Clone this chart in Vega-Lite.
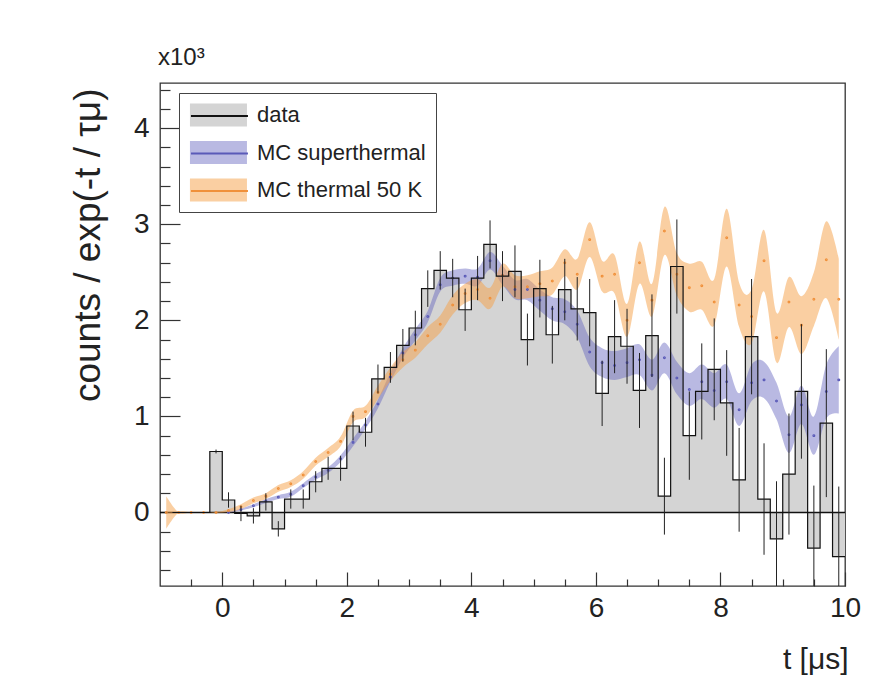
{
  "$schema": "https://vega.github.io/schema/vega-lite/v6.json",
  "width": 685,
  "height": 503,
  "autosize": {"type": "none"},
  "padding": {"left": 160, "top": 83, "right": 46, "bottom": 91},
  "background": "white",
  "config": {
    "view": {"stroke": "#333", "strokeWidth": 1.3},
    "font": "Liberation Sans",
    "title": {"fontSize": 24},
    "axis": {"grid": false, "domain": false, "labelFont": "Liberation Sans", "titleFont": "Liberation Sans", "labelColor": "#222", "titleColor": "#222", "tickColor": "#333", "tickWidth": 1.2, "titleFontWeight": "normal", "labelOverlap": false, "labelFlush": false}
  },
  "title": {"text": "x10³", "anchor": "start", "frame": "group", "fontSize": 24, "fontWeight": "normal", "font": "Liberation Sans", "color": "#222", "offset": 13, "dx": -2},
  "resolve": {"axis": {"x": "independent", "y": "independent"}},
  "datasets": {
    "hist": [
      {"t0": -1.0, "t1": -0.8, "t": -0.9, "v": 0, "lo": 0, "hi": 0},
      {"t0": -0.8, "t1": -0.6, "t": -0.7, "v": 0, "lo": 0, "hi": 0},
      {"t0": -0.6, "t1": -0.4, "t": -0.5, "v": 0, "lo": 0, "hi": 0},
      {"t0": -0.4, "t1": -0.2, "t": -0.3, "v": 0, "lo": 0, "hi": 0},
      {"t0": -0.2, "t1": 0.0, "t": -0.1, "v": 0.635, "lo": 0.615, "hi": 0.655},
      {"t0": 0.0, "t1": 0.2, "t": 0.1, "v": 0.13, "lo": 0.05, "hi": 0.21},
      {"t0": 0.2, "t1": 0.4, "t": 0.3, "v": -0.01, "lo": -0.09, "hi": 0.07},
      {"t0": 0.4, "t1": 0.6, "t": 0.5, "v": -0.035, "lo": -0.115, "hi": 0.045},
      {"t0": 0.6, "t1": 0.8, "t": 0.7, "v": 0.11, "lo": 0.02, "hi": 0.2},
      {"t0": 0.8, "t1": 1.0, "t": 0.9, "v": -0.17, "lo": -0.25, "hi": -0.09},
      {"t0": 1.0, "t1": 1.2, "t": 1.1, "v": 0.14, "lo": 0.04, "hi": 0.24},
      {"t0": 1.2, "t1": 1.4, "t": 1.3, "v": 0.14, "lo": 0.04, "hi": 0.24},
      {"t0": 1.4, "t1": 1.6, "t": 1.5, "v": 0.32, "lo": 0.21, "hi": 0.43},
      {"t0": 1.6, "t1": 1.8, "t": 1.7, "v": 0.46, "lo": 0.34, "hi": 0.58},
      {"t0": 1.8, "t1": 2.0, "t": 1.9, "v": 0.46, "lo": 0.33, "hi": 0.59},
      {"t0": 2.0, "t1": 2.2, "t": 2.1, "v": 0.9, "lo": 0.75, "hi": 1.05},
      {"t0": 2.2, "t1": 2.4, "t": 2.3, "v": 0.835, "lo": 0.685, "hi": 0.985},
      {"t0": 2.4, "t1": 2.6, "t": 2.5, "v": 1.39, "lo": 1.24, "hi": 1.54},
      {"t0": 2.6, "t1": 2.8, "t": 2.7, "v": 1.51, "lo": 1.35, "hi": 1.67},
      {"t0": 2.8, "t1": 3.0, "t": 2.9, "v": 1.74, "lo": 1.57, "hi": 1.91},
      {"t0": 3.0, "t1": 3.2, "t": 3.1, "v": 1.92, "lo": 1.74, "hi": 2.1},
      {"t0": 3.2, "t1": 3.4, "t": 3.3, "v": 2.33, "lo": 2.14, "hi": 2.52},
      {"t0": 3.4, "t1": 3.6, "t": 3.5, "v": 2.52, "lo": 2.32, "hi": 2.72},
      {"t0": 3.6, "t1": 3.8, "t": 3.7, "v": 2.44, "lo": 2.24, "hi": 2.64},
      {"t0": 3.8, "t1": 4.0, "t": 3.9, "v": 2.11, "lo": 1.89, "hi": 2.33},
      {"t0": 4.0, "t1": 4.2, "t": 4.1, "v": 2.44, "lo": 2.21, "hi": 2.67},
      {"t0": 4.2, "t1": 4.4, "t": 4.3, "v": 2.79, "lo": 2.54, "hi": 3.04},
      {"t0": 4.4, "t1": 4.6, "t": 4.5, "v": 2.46, "lo": 2.2, "hi": 2.72},
      {"t0": 4.6, "t1": 4.8, "t": 4.7, "v": 2.51, "lo": 2.24, "hi": 2.78},
      {"t0": 4.8, "t1": 5.0, "t": 4.9, "v": 1.8, "lo": 1.53, "hi": 2.07},
      {"t0": 5.0, "t1": 5.2, "t": 5.1, "v": 2.33, "lo": 2.03, "hi": 2.63},
      {"t0": 5.2, "t1": 5.4, "t": 5.3, "v": 1.85, "lo": 1.55, "hi": 2.15},
      {"t0": 5.4, "t1": 5.6, "t": 5.5, "v": 2.32, "lo": 2.0, "hi": 2.64},
      {"t0": 5.6, "t1": 5.8, "t": 5.7, "v": 2.12, "lo": 1.79, "hi": 2.45},
      {"t0": 5.8, "t1": 6.0, "t": 5.9, "v": 2.08, "lo": 1.73, "hi": 2.43},
      {"t0": 6.0, "t1": 6.2, "t": 6.1, "v": 1.24, "lo": 0.9, "hi": 1.58},
      {"t0": 6.2, "t1": 6.4, "t": 6.3, "v": 1.83, "lo": 1.45, "hi": 2.21},
      {"t0": 6.4, "t1": 6.6, "t": 6.5, "v": 1.73, "lo": 1.34, "hi": 2.12},
      {"t0": 6.6, "t1": 6.8, "t": 6.7, "v": 1.27, "lo": 0.88, "hi": 1.66},
      {"t0": 6.8, "t1": 7.0, "t": 6.9, "v": 1.84, "lo": 1.41, "hi": 2.27},
      {"t0": 7.0, "t1": 7.2, "t": 7.1, "v": 0.17, "lo": -0.23, "hi": 0.57},
      {"t0": 7.2, "t1": 7.4, "t": 7.3, "v": 2.56, "lo": 2.07, "hi": 3.05},
      {"t0": 7.4, "t1": 7.6, "t": 7.5, "v": 0.8, "lo": 0.34, "hi": 1.26},
      {"t0": 7.6, "t1": 7.8, "t": 7.7, "v": 1.26, "lo": 0.76, "hi": 1.76},
      {"t0": 7.8, "t1": 8.0, "t": 7.9, "v": 1.49, "lo": 0.96, "hi": 2.02},
      {"t0": 8.0, "t1": 8.2, "t": 8.1, "v": 1.14, "lo": 0.59, "hi": 1.69},
      {"t0": 8.2, "t1": 8.4, "t": 8.3, "v": 0.34, "lo": -0.2, "hi": 0.88},
      {"t0": 8.4, "t1": 8.6, "t": 8.5, "v": 1.83, "lo": 1.23, "hi": 2.43},
      {"t0": 8.6, "t1": 8.8, "t": 8.7, "v": 0.14, "lo": -0.44, "hi": 0.72},
      {"t0": 8.8, "t1": 9.0, "t": 8.9, "v": -0.275, "lo": -0.875, "hi": 0.325},
      {"t0": 9.0, "t1": 9.2, "t": 9.1, "v": 0.4, "lo": -0.23, "hi": 1.03},
      {"t0": 9.2, "t1": 9.4, "t": 9.3, "v": 1.26, "lo": 0.56, "hi": 1.96},
      {"t0": 9.4, "t1": 9.6, "t": 9.5, "v": -0.37, "lo": -1.02, "hi": 0.28},
      {"t0": 9.6, "t1": 9.8, "t": 9.7, "v": 0.93, "lo": 0.16, "hi": 1.7},
      {"t0": 9.8, "t1": 10.0, "t": 9.9, "v": -0.46, "lo": -1.19, "hi": 0.27}
    ],
    "bands": [
      {"series": "MC superthermal", "t": 0.1, "c": 0.0, "lo": -0.005, "hi": 0.005},
      {"series": "MC superthermal", "t": 0.3, "c": 0.03, "lo": 0.02, "hi": 0.04},
      {"series": "MC superthermal", "t": 0.5, "c": 0.07, "lo": 0.055, "hi": 0.085},
      {"series": "MC superthermal", "t": 0.7, "c": 0.12, "lo": 0.1, "hi": 0.14},
      {"series": "MC superthermal", "t": 0.9, "c": 0.16, "lo": 0.14, "hi": 0.18},
      {"series": "MC superthermal", "t": 1.1, "c": 0.19, "lo": 0.165, "hi": 0.215},
      {"series": "MC superthermal", "t": 1.3, "c": 0.28, "lo": 0.255, "hi": 0.305},
      {"series": "MC superthermal", "t": 1.5, "c": 0.37, "lo": 0.34, "hi": 0.4},
      {"series": "MC superthermal", "t": 1.7, "c": 0.44, "lo": 0.41, "hi": 0.47},
      {"series": "MC superthermal", "t": 1.9, "c": 0.56, "lo": 0.525, "hi": 0.595},
      {"series": "MC superthermal", "t": 2.1, "c": 0.73, "lo": 0.69, "hi": 0.77},
      {"series": "MC superthermal", "t": 2.3, "c": 0.91, "lo": 0.87, "hi": 0.95},
      {"series": "MC superthermal", "t": 2.5, "c": 1.13, "lo": 1.085, "hi": 1.175},
      {"series": "MC superthermal", "t": 2.7, "c": 1.41, "lo": 1.36, "hi": 1.46},
      {"series": "MC superthermal", "t": 2.9, "c": 1.66, "lo": 1.61, "hi": 1.71},
      {"series": "MC superthermal", "t": 3.1, "c": 1.85, "lo": 1.79, "hi": 1.91},
      {"series": "MC superthermal", "t": 3.3, "c": 2.04, "lo": 1.98, "hi": 2.1},
      {"series": "MC superthermal", "t": 3.5, "c": 2.37, "lo": 2.3, "hi": 2.44},
      {"series": "MC superthermal", "t": 3.7, "c": 2.44, "lo": 2.36, "hi": 2.52},
      {"series": "MC superthermal", "t": 3.9, "c": 2.46, "lo": 2.38, "hi": 2.54},
      {"series": "MC superthermal", "t": 4.1, "c": 2.45, "lo": 2.36, "hi": 2.54},
      {"series": "MC superthermal", "t": 4.3, "c": 2.62, "lo": 2.53, "hi": 2.71},
      {"series": "MC superthermal", "t": 4.5, "c": 2.47, "lo": 2.37, "hi": 2.57},
      {"series": "MC superthermal", "t": 4.7, "c": 2.32, "lo": 2.22, "hi": 2.42},
      {"series": "MC superthermal", "t": 4.9, "c": 2.32, "lo": 2.21, "hi": 2.43},
      {"series": "MC superthermal", "t": 5.1, "c": 2.21, "lo": 2.1, "hi": 2.32},
      {"series": "MC superthermal", "t": 5.3, "c": 2.12, "lo": 2.0, "hi": 2.24},
      {"series": "MC superthermal", "t": 5.5, "c": 2.09, "lo": 1.96, "hi": 2.22},
      {"series": "MC superthermal", "t": 5.7, "c": 1.96, "lo": 1.82, "hi": 2.1},
      {"series": "MC superthermal", "t": 5.9, "c": 1.67, "lo": 1.52, "hi": 1.82},
      {"series": "MC superthermal", "t": 6.1, "c": 1.56, "lo": 1.41, "hi": 1.71},
      {"series": "MC superthermal", "t": 6.3, "c": 1.53, "lo": 1.38, "hi": 1.68},
      {"series": "MC superthermal", "t": 6.5, "c": 1.56, "lo": 1.41, "hi": 1.71},
      {"series": "MC superthermal", "t": 6.7, "c": 1.59, "lo": 1.43, "hi": 1.75},
      {"series": "MC superthermal", "t": 6.9, "c": 1.43, "lo": 1.27, "hi": 1.59},
      {"series": "MC superthermal", "t": 7.1, "c": 1.61, "lo": 1.45, "hi": 1.77},
      {"series": "MC superthermal", "t": 7.3, "c": 1.4, "lo": 1.23, "hi": 1.57},
      {"series": "MC superthermal", "t": 7.5, "c": 1.28, "lo": 1.11, "hi": 1.45},
      {"series": "MC superthermal", "t": 7.7, "c": 1.36, "lo": 1.18, "hi": 1.54},
      {"series": "MC superthermal", "t": 7.9, "c": 1.27, "lo": 1.09, "hi": 1.45},
      {"series": "MC superthermal", "t": 8.1, "c": 1.36, "lo": 1.18, "hi": 1.54},
      {"series": "MC superthermal", "t": 8.3, "c": 1.07, "lo": 0.9, "hi": 1.24},
      {"series": "MC superthermal", "t": 8.5, "c": 1.35, "lo": 1.16, "hi": 1.54},
      {"series": "MC superthermal", "t": 8.7, "c": 1.38, "lo": 1.19, "hi": 1.57},
      {"series": "MC superthermal", "t": 8.9, "c": 1.16, "lo": 0.97, "hi": 1.35},
      {"series": "MC superthermal", "t": 9.1, "c": 0.81, "lo": 0.62, "hi": 1.0},
      {"series": "MC superthermal", "t": 9.3, "c": 1.12, "lo": 0.92, "hi": 1.32},
      {"series": "MC superthermal", "t": 9.5, "c": 0.8, "lo": 0.6, "hi": 1.0},
      {"series": "MC superthermal", "t": 9.7, "c": 1.26, "lo": 0.98, "hi": 1.54},
      {"series": "MC superthermal", "t": 9.9, "c": 1.38, "lo": 1.03, "hi": 1.73},
      {"series": "MC thermal 50 K", "t": -0.9, "c": 0.0, "lo": -0.17, "hi": 0.17},
      {"series": "MC thermal 50 K", "t": -0.7, "c": 0.0, "lo": 0.0, "hi": 0.0},
      {"series": "MC thermal 50 K", "t": -0.5, "c": 0.0, "lo": 0.0, "hi": 0.0},
      {"series": "MC thermal 50 K", "t": -0.3, "c": 0.0, "lo": 0.0, "hi": 0.0},
      {"series": "MC thermal 50 K", "t": -0.1, "c": 0.0, "lo": -0.005, "hi": 0.005},
      {"series": "MC thermal 50 K", "t": 0.1, "c": 0.02, "lo": 0.005, "hi": 0.035},
      {"series": "MC thermal 50 K", "t": 0.3, "c": 0.06, "lo": 0.035, "hi": 0.085},
      {"series": "MC thermal 50 K", "t": 0.5, "c": 0.125, "lo": 0.095, "hi": 0.155},
      {"series": "MC thermal 50 K", "t": 0.7, "c": 0.17, "lo": 0.14, "hi": 0.2},
      {"series": "MC thermal 50 K", "t": 0.9, "c": 0.25, "lo": 0.215, "hi": 0.285},
      {"series": "MC thermal 50 K", "t": 1.1, "c": 0.3, "lo": 0.265, "hi": 0.335},
      {"series": "MC thermal 50 K", "t": 1.3, "c": 0.39, "lo": 0.35, "hi": 0.43},
      {"series": "MC thermal 50 K", "t": 1.5, "c": 0.53, "lo": 0.49, "hi": 0.57},
      {"series": "MC thermal 50 K", "t": 1.7, "c": 0.625, "lo": 0.58, "hi": 0.67},
      {"series": "MC thermal 50 K", "t": 1.9, "c": 0.74, "lo": 0.69, "hi": 0.79},
      {"series": "MC thermal 50 K", "t": 2.1, "c": 1.0, "lo": 0.94, "hi": 1.06},
      {"series": "MC thermal 50 K", "t": 2.3, "c": 1.05, "lo": 0.99, "hi": 1.11},
      {"series": "MC thermal 50 K", "t": 2.5, "c": 1.25, "lo": 1.18, "hi": 1.32},
      {"series": "MC thermal 50 K", "t": 2.7, "c": 1.44, "lo": 1.37, "hi": 1.51},
      {"series": "MC thermal 50 K", "t": 2.9, "c": 1.59, "lo": 1.51, "hi": 1.67},
      {"series": "MC thermal 50 K", "t": 3.1, "c": 1.69, "lo": 1.61, "hi": 1.77},
      {"series": "MC thermal 50 K", "t": 3.3, "c": 1.84, "lo": 1.75, "hi": 1.93},
      {"series": "MC thermal 50 K", "t": 3.5, "c": 1.96, "lo": 1.87, "hi": 2.05},
      {"series": "MC thermal 50 K", "t": 3.7, "c": 2.16, "lo": 2.06, "hi": 2.26},
      {"series": "MC thermal 50 K", "t": 3.9, "c": 2.28, "lo": 2.18, "hi": 2.38},
      {"series": "MC thermal 50 K", "t": 4.1, "c": 2.32, "lo": 2.21, "hi": 2.43},
      {"series": "MC thermal 50 K", "t": 4.3, "c": 2.23, "lo": 2.12, "hi": 2.34},
      {"series": "MC thermal 50 K", "t": 4.5, "c": 2.47, "lo": 2.35, "hi": 2.59},
      {"series": "MC thermal 50 K", "t": 4.7, "c": 2.35, "lo": 2.23, "hi": 2.47},
      {"series": "MC thermal 50 K", "t": 4.9, "c": 2.35, "lo": 2.23, "hi": 2.47},
      {"series": "MC thermal 50 K", "t": 5.1, "c": 2.38, "lo": 2.25, "hi": 2.51},
      {"series": "MC thermal 50 K", "t": 5.3, "c": 2.41, "lo": 2.27, "hi": 2.55},
      {"series": "MC thermal 50 K", "t": 5.5, "c": 2.6, "lo": 2.46, "hi": 2.74},
      {"series": "MC thermal 50 K", "t": 5.7, "c": 2.48, "lo": 2.32, "hi": 2.64},
      {"series": "MC thermal 50 K", "t": 5.9, "c": 2.84, "lo": 2.66, "hi": 3.02},
      {"series": "MC thermal 50 K", "t": 6.1, "c": 2.46, "lo": 2.3, "hi": 2.62},
      {"series": "MC thermal 50 K", "t": 6.3, "c": 2.48, "lo": 2.28, "hi": 2.68},
      {"series": "MC thermal 50 K", "t": 6.5, "c": 2.0, "lo": 1.83, "hi": 2.17},
      {"series": "MC thermal 50 K", "t": 6.7, "c": 2.6, "lo": 2.38, "hi": 2.82},
      {"series": "MC thermal 50 K", "t": 6.9, "c": 2.21, "lo": 2.04, "hi": 2.38},
      {"series": "MC thermal 50 K", "t": 7.1, "c": 2.93, "lo": 2.68, "hi": 3.18},
      {"series": "MC thermal 50 K", "t": 7.3, "c": 2.48, "lo": 2.26, "hi": 2.7},
      {"series": "MC thermal 50 K", "t": 7.5, "c": 2.34, "lo": 2.09, "hi": 2.59},
      {"series": "MC thermal 50 K", "t": 7.7, "c": 2.36, "lo": 2.11, "hi": 2.61},
      {"series": "MC thermal 50 K", "t": 7.9, "c": 2.19, "lo": 1.95, "hi": 2.43},
      {"series": "MC thermal 50 K", "t": 8.1, "c": 2.86, "lo": 2.56, "hi": 3.16},
      {"series": "MC thermal 50 K", "t": 8.3, "c": 2.16, "lo": 1.93, "hi": 2.39},
      {"series": "MC thermal 50 K", "t": 8.5, "c": 2.04, "lo": 1.76, "hi": 2.32},
      {"series": "MC thermal 50 K", "t": 8.7, "c": 2.62, "lo": 2.3, "hi": 2.94},
      {"series": "MC thermal 50 K", "t": 8.9, "c": 1.82, "lo": 1.56, "hi": 2.08},
      {"series": "MC thermal 50 K", "t": 9.1, "c": 2.19, "lo": 1.93, "hi": 2.45},
      {"series": "MC thermal 50 K", "t": 9.3, "c": 1.95, "lo": 1.65, "hi": 2.25},
      {"series": "MC thermal 50 K", "t": 9.5, "c": 2.22, "lo": 1.94, "hi": 2.5},
      {"series": "MC thermal 50 K", "t": 9.7, "c": 2.63, "lo": 2.23, "hi": 3.03},
      {"series": "MC thermal 50 K", "t": 9.9, "c": 2.22, "lo": 1.8, "hi": 2.64}
    ]
  },
  "layer": [
    {
      "data": {"name": "hist"},
      "mark": {"type": "area", "interpolate": "step-before", "clip": true},
      "encoding": {
        "x": {"field": "t1", "type": "quantitative", "scale": {"domain": [-1, 10], "nice": false, "zero": false},
              "axis": {"orient": "bottom", "values": [0, 2, 4, 6, 8, 10], "tickSize": -14, "labelPadding": 22, "labelFontSize": 28, "format": "d",
                       "title": "t [μs]", "titleFontSize": 30, "titleAlign": "right", "titleBaseline": "alphabetic", "titleX": 688, "titleY": 82}},
        "y": {"field": "v", "type": "quantitative", "scale": {"domain": [-0.765, 4.47], "nice": false, "zero": false},
              "axis": {"orient": "left", "values": [0, 1, 2, 3, 4], "tickSize": -20, "labelPadding": 31, "labelFontSize": 28, "format": "d",
                       "title": "counts / exp(-t / τμ)", "titleFontSize": 37, "titleAngle": -90, "titleAlign": "right", "titleBaseline": "bottom", "titleX": -53, "titleY": 5}},
        "y2": {"datum": 0},
        "fill": {"datum": "data", "type": "nominal", "title": null,
                 "scale": {"domain": ["data", "MC superthermal", "MC thermal 50 K"], "range": ["#d4d4d4", "rgba(100,100,190,0.45)", "rgba(245,160,70,0.5)"]},
                 "legend": {"orient": "none", "legendX": 19, "legendY": 10, "title": null, "symbolType": "M-0.92,-0.96H3.83V0.96H-0.92Z", "symbolSize": 576, "symbolStrokeWidth": 0, "symbolOpacity": 1,
                            "labelFontSize": 22, "labelFont": "Liberation Sans", "labelColor": "#222", "labelOffset": 44, "labelLimit": 400, "rowPadding": 13.5, "padding": 10, "strokeColor": "#444", "fillColor": "white", "zindex": 0}}
      }
    },
    {
      "data": {"values": [{"zero": 0}]},
      "mark": {"type": "rule", "color": "#111", "strokeWidth": 1.3},
      "encoding": {"y": {"field": "zero", "type": "quantitative", "axis": null}}
    },
    {
      "data": {"name": "bands"},
      "mark": {"type": "area", "interpolate": "cardinal", "clip": true},
      "encoding": {
        "x": {"field": "t", "type": "quantitative", "axis": null},
        "y": {"field": "lo", "type": "quantitative", "axis": null},
        "y2": {"field": "hi"},
        "fill": {"field": "series", "type": "nominal", "title": null}
      }
    },
    {
      "data": {"name": "bands"},
      "mark": {"type": "point", "filled": false, "size": 3, "strokeWidth": 1.2, "opacity": 1, "clip": true},
      "encoding": {
        "x": {"field": "t", "type": "quantitative", "axis": null},
        "y": {"field": "c", "type": "quantitative", "axis": null},
        "stroke": {"field": "series", "type": "nominal", "title": null,
                   "scale": {"domain": ["data", "MC superthermal", "MC thermal 50 K", "none"], "range": ["#111111", "#5a5ab8", "#f0903a", "#ffffff"]},
                   "legend": {"orient": "none", "legendX": 19, "legendY": 10, "title": null, "values": ["data", "MC superthermal", "MC thermal 50 K"],
                              "symbolType": "M-0.92,0H3.83", "symbolSize": 576, "symbolStrokeWidth": 2, "symbolOpacity": 1, "symbolFillColor": "transparent",
                              "labelExpr": "''", "labelFontSize": 22, "labelFont": "Liberation Sans", "labelOffset": 44, "rowPadding": 13.5, "padding": 10, "zindex": 1}}
      }
    },
    {
      "data": {"name": "hist"},
      "mark": {"type": "line", "interpolate": "step-before", "strokeWidth": 1.2, "clip": true},
      "encoding": {
        "x": {"field": "t1", "type": "quantitative", "axis": null},
        "y": {"field": "v", "type": "quantitative", "axis": null},
        "stroke": {"datum": "data", "type": "nominal", "title": null}
      }
    },
    {
      "data": {"name": "hist"},
      "mark": {"type": "rule", "color": "#222", "strokeWidth": 1, "clip": true},
      "encoding": {
        "x": {"field": "t", "type": "quantitative",
              "axis": {"orient": "bottom", "values": [-0.5, 0.5, 1, 1.5, 2.5, 3, 3.5, 4.5, 5, 5.5, 6.5, 7, 7.5, 8.5, 9, 9.5], "tickSize": -7, "labels": false, "title": null}},
        "y": {"field": "lo", "type": "quantitative",
              "axis": {"orient": "left", "values": [-0.6, -0.4, -0.2, 0.2, 0.4, 0.6, 0.8, 1.2, 1.4, 1.6, 1.8, 2.2, 2.4, 2.6, 2.8, 3.2, 3.4, 3.6, 3.8, 4.2, 4.4], "tickSize": -10, "labels": false, "title": null}},
        "y2": {"field": "hi"}
      }
    }
  ]
}
